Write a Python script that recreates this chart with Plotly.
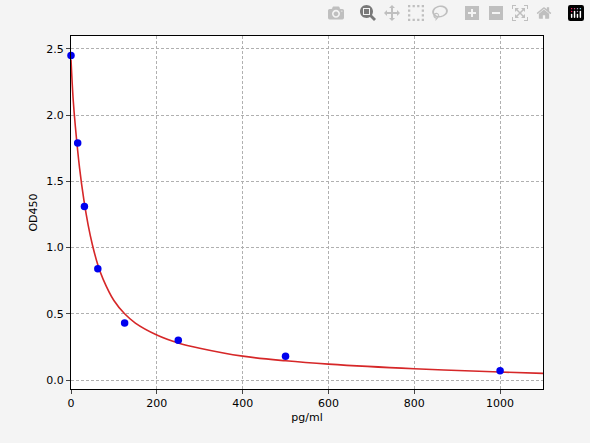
import plotly.graph_objects as go

conc = [0, 15.6, 31.25, 62.5, 125, 250, 500, 1000]
od = [2.45, 1.79, 1.31, 0.84, 0.43, 0.30, 0.18, 0.07]

curve_x = [0, 5, 10, 20, 30, 40, 50, 62.5, 75, 100, 125, 150, 200, 250, 300, 400, 500, 600, 800, 1000, 1100]
curve_y = [2.42, 2.12, 1.92, 1.60, 1.36, 1.17, 1.02, 0.87, 0.76, 0.60, 0.50, 0.43, 0.34, 0.28, 0.24, 0.18, 0.145, 0.12, 0.085, 0.06, 0.05]

fig = go.Figure()
fig.add_trace(go.Scatter(x=curve_x, y=curve_y, mode="lines", line=dict(color="#d62728", width=1.6, shape="spline"), showlegend=False))
fig.add_trace(go.Scatter(x=conc, y=od, mode="markers", marker=dict(color="#0000ee", size=7.5), showlegend=False, cliponaxis=False))

ax = dict(showline=True, linecolor="black", mirror=True, ticks="outside", ticklen=4,
          showgrid=True, gridcolor="#b0b0b0", griddash="3px,2px", zeroline=False,
          tickfont=dict(family="DejaVu Sans", size=11, color="black"))
fig.update_xaxes(**ax, range=[0, 1100], tickvals=[0, 200, 400, 600, 800, 1000],
                 title=dict(text="pg/ml", font=dict(family="DejaVu Sans", size=11, color="black"), standoff=4))
fig.update_yaxes(**ax, range=[-0.068, 2.598], tickvals=[0, 0.5, 1, 1.5, 2, 2.5], tickformat=".1f",
                 title=dict(text="OD450", font=dict(family="DejaVu Sans", size=11, color="black"), standoff=6))
fig.update_layout(width=590, height=443, margin=dict(l=71, r=47, t=36, b=54),
                  paper_bgcolor="#f4f4f4", plot_bgcolor="white")
fig.write_html("out.html", post_script="document.body.style.margin='0';document.body.style.background='#f4f4f4';")
